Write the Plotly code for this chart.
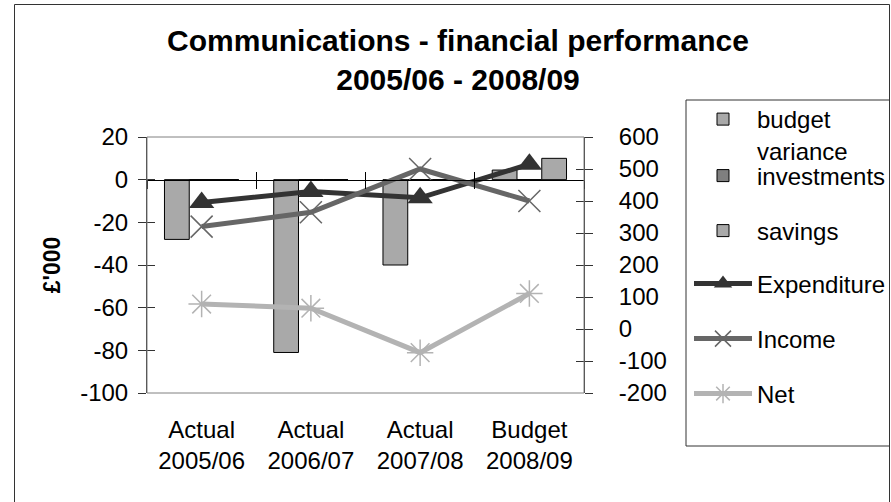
import plotly.graph_objects as go

# Financial performance data (£'000)
categories = ["Actual<br>2005/06", "Actual<br>2006/07", "Actual<br>2007/08", "Budget<br>2008/09"]
budget_variance = [-28, -81, -40, 4.5]
investments = [0, 0, 0, 0]
savings = [0, 0, 0, 10]
expenditure = [395, 430, 410, 515]
income = [320, 365, 500, 400]
net = [78, 65, -74, 111]

left_ticks = [-100, -80, -60, -40, -20, 0, 20]
left_ticktext = ["-100", "-80", "-60", "-40", "-20", "0", "20"]
right_ticks = [-200, -100, 0, 100, 200, 300, 400, 500, 600]
right_ticktext = ["-200", "-100", "0", "100", "200", "300", "400", "500", "600"]
boundaries = [-0.5, 0.5, 1.5, 2.5, 3.5]

FONT = "Liberation Sans, Arial, sans-serif"
W, H = 891, 502
L, R, T, B = 147, 307, 137, 109
PW, PH = W - L - R, H - T - B


def px_x(px):
    return (px - L) / PW


def px_y(py):
    return (H - B - py) / PH


fig = go.Figure()

bar_line = dict(color="#000000", width=1)
fig.add_trace(go.Bar(x=categories, y=budget_variance, name="budget<br>variance",
                     marker=dict(color="#a9a9a9", line=bar_line), legend="legend"))
fig.add_trace(go.Bar(x=categories, y=investments, name="investments",
                     marker=dict(color="#7f7f7f", line=bar_line), legend="legend2"))
fig.add_trace(go.Bar(x=categories, y=savings, name="savings",
                     marker=dict(color="#a9a9a9", line=bar_line), legend="legend3"))

fig.add_trace(go.Scatter(x=categories, y=expenditure, name="Expenditure", yaxis="y2",
                         mode="lines+markers", line=dict(color="#333333", width=5),
                         marker=dict(symbol="triangle-up", size=22, color="#333333"),
                         legend="legend4"))
fig.add_trace(go.Scatter(x=categories, y=income, name="Income", yaxis="y2",
                         mode="lines+markers", line=dict(color="#666666", width=5),
                         marker=dict(symbol="x-thin-open", size=22,
                                     line=dict(color="#666666", width=1.5)),
                         legend="legend5"))
fig.add_trace(go.Scatter(x=categories, y=net, name="Net", yaxis="y2",
                         mode="lines+markers", line=dict(color="#b3b3b3", width=5),
                         marker=dict(symbol="asterisk-open", size=22,
                                     line=dict(color="#b3b3b3", width=1.5)),
                         legend="legend6"))

# empty traces so the tick-only overlay axes get drawn
for xa, ya in [("x2", "y"), ("x3", "y"), ("x", "y3"), ("x", "y4")]:
    fig.add_trace(go.Scatter(x=[None], y=[None], xaxis=xa, yaxis=ya, mode="markers",
                             showlegend=False, hoverinfo="skip"))

tickfont = dict(family=FONT, size=24, color="#000000")
axis_color = "#333333"

# legend entries, one legend each so the spacing is even
legend_common = dict(font=dict(family=FONT, size=24, color="#000000"),
                     bgcolor="rgba(0,0,0,0)", borderwidth=0, itemwidth=58,
                     xanchor="left", x=px_x(689), yanchor="middle",
                     itemclick=False, itemdoubleclick=False)
legend_y = [135, 176, 231, 284, 339, 394]
legends = {}
for i, yy in enumerate(legend_y):
    key = "legend" if i == 0 else f"legend{i + 1}"
    legends[key] = dict(legend_common, y=px_y(yy))
legends["legend"]["valign"] = "top"

overlay_x = dict(overlaying="x", anchor="free", position=100 / 120, range=[-0.5, 3.5],
                 tickmode="array", tickvals=boundaries, ticklen=8, tickcolor="#000000",
                 showticklabels=False, showgrid=False, zeroline=False)

fig.update_layout(
    width=W, height=H,
    margin=dict(l=L, r=R, t=T, b=B, pad=0, autoexpand=False),
    paper_bgcolor="#ffffff", plot_bgcolor="#ffffff",
    showlegend=True,
    barmode="group", bargap=0.32, bargroupgap=0,
    title=dict(text="<b>Communications - financial performance<br>2005/06 - 2008/09</b>",
               font=dict(family=FONT, size=30, color="#000000"),
               x=458 / W, xref="container", xanchor="center",
               y=1 - 51 / H, yref="container", yanchor="top"),
    xaxis=dict(type="category", range=[-0.5, 3.5], showline=False, ticks="",
               showgrid=False, zeroline=False, tickfont=tickfont, ticklabelstandoff=20),
    xaxis2=dict(overlay_x, ticks="outside", showline=True, linecolor="#000000", linewidth=1),
    xaxis3=dict(overlay_x, ticks="inside", showline=False),
    yaxis=dict(range=[-100, 20], tickmode="array", tickvals=left_ticks,
               ticktext=left_ticktext, showgrid=False, zeroline=False,
               showline=True, linecolor=axis_color, linewidth=1,
               ticks="outside", ticklen=8, tickcolor=axis_color,
               tickfont=tickfont, ticklabelstandoff=5,
               title=dict(text="<b>£'000</b>", font=dict(family=FONT, size=23, color="#000000"),
                          standoff=13)),
    yaxis3=dict(overlaying="y", range=[-100, 20], tickmode="array", tickvals=left_ticks,
                showgrid=False, zeroline=False, showline=False, ticks="inside", ticklen=8,
                tickcolor=axis_color, showticklabels=False),
    yaxis2=dict(overlaying="y", side="right", range=[-200, 600], tickmode="array",
                tickvals=right_ticks, ticktext=right_ticktext, showgrid=False,
                zeroline=False, showline=True, linecolor=axis_color, linewidth=1,
                ticks="outside", ticklen=8, tickcolor=axis_color,
                tickfont=tickfont, ticklabelstandoff=21),
    yaxis4=dict(overlaying="y", side="right", range=[-200, 600], tickmode="array",
                tickvals=right_ticks, showgrid=False, zeroline=False, showline=False,
                ticks="inside", ticklen=8, tickcolor=axis_color, showticklabels=False),
    shapes=[
        # plot area frame
        dict(type="rect", xref="paper", yref="paper", x0=0, x1=1, y0=0, y1=1,
             line=dict(color="#808080", width=1)),
        # legend frame
        dict(type="rect", xref="paper", yref="paper", x0=px_x(686), x1=px_x(889.5),
             y0=px_y(446), y1=px_y(100), line=dict(color="#333333", width=1)),
        # chart area frame
        dict(type="rect", xref="paper", yref="paper", x0=px_x(14.5), x1=px_x(889.5),
             y0=px_y(520), y1=px_y(4.5), line=dict(color="#333333", width=1)),
    ],
    **legends,
)

fig.write_html("out.html")
